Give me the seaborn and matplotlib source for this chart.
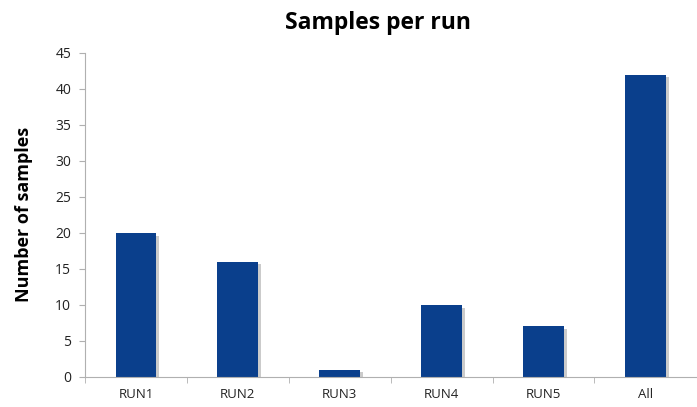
import numpy as np
import pandas as pd
import matplotlib
matplotlib.use("Agg")
import matplotlib.pyplot as plt
import matplotlib.patheffects as pe
import seaborn as sns

# data
runs = ["RUN1", "RUN2", "RUN3", "RUN4", "RUN5", "All"]
samples = [20, 16, 1, 10, 7, 42]

df = pd.DataFrame({"run": runs, "samples": samples})

sns.set_style("white")
plt.rcParams["font.family"] = ["Open Sans", "DejaVu Sans"]
plt.rcParams["text.color"] = "black"
plt.rcParams["xtick.color"] = "black"
plt.rcParams["ytick.color"] = "black"

fig = plt.figure(figsize=(6.97, 4.07), dpi=100)
ax = fig.add_axes([0.122, 0.074, 0.877, 0.796])

sns.barplot(data=df, x="run", y="samples", color="#0a3f8c", saturation=1,
            width=0.4, linewidth=0, ax=ax)
for p in ax.patches:
    p.set_path_effects([pe.SimplePatchShadow(offset=(2, -2), shadow_rgbFace="#999999", alpha=0.5),
                        pe.Normal()])

ax.set_ylim(0, 45)
ax.set_yticks(range(0, 46, 5))
ax.set_xlim(-0.5, 5.5)
ax.set_title("Samples per run", fontsize=16.5, fontweight="bold", pad=17, x=0.48, color="black")
ax.set_ylabel("Number of samples", fontsize=13, fontweight="bold", labelpad=16, color="black")
ax.set_xlabel("")

for s in ["top", "right"]:
    ax.spines[s].set_visible(False)
ax.spines["left"].set_color("#b0b0b0")
ax.spines["bottom"].set_color("#b0b0b0")

ax.tick_params(axis="y", length=4, color="#b0b0b0", labelcolor="#222222", labelsize=10, pad=6, left=True)
ax.tick_params(axis="x", which="major", length=0, labelcolor="#222222", labelsize=9.5, pad=8)
ax.set_xticks(np.arange(-0.5, 5.5, 1), minor=True)
ax.tick_params(axis="x", which="minor", length=4, color="#b0b0b0", bottom=True)

fig.savefig("out.png", dpi=100)
